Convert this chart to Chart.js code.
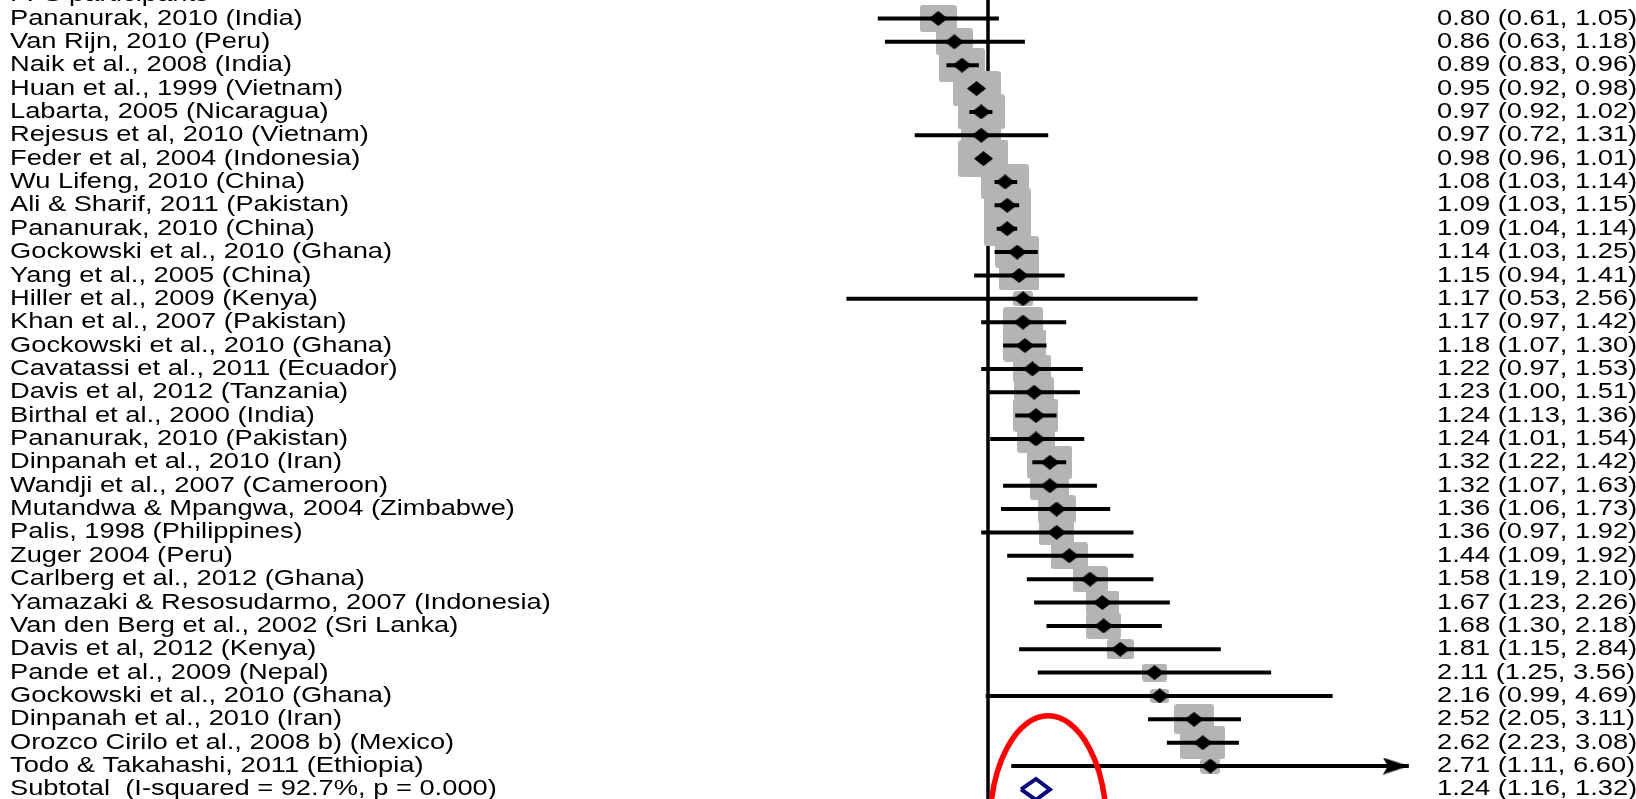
<!DOCTYPE html>
<html>
<head>
<meta charset="utf-8">
<script src="https://cdn.jsdelivr.net/npm/chart.js@4"></script>
<style>
  html, body { margin: 0; padding: 0; background: #fff; }
  #wrap { position: relative; width: 1636px; height: 799px; }
</style>
</head>
<body>
<div id="wrap"><canvas id="forest"></canvas></div>
<script>
// Forest plot, FFS participants subgroup (odds ratios, log x axis)

const groupTitle = 'FFS participants';

const studies = [
  'Pananurak, 2010 (India)',
  'Van Rijn, 2010 (Peru)',
  'Naik et al., 2008 (India)',
  'Huan et al., 1999 (Vietnam)',
  'Labarta, 2005 (Nicaragua)',
  'Rejesus et al, 2010 (Vietnam)',
  'Feder et al, 2004 (Indonesia)',
  'Wu Lifeng, 2010 (China)',
  'Ali & Sharif, 2011 (Pakistan)',
  'Pananurak, 2010 (China)',
  'Gockowski et al., 2010 (Ghana)',
  'Yang et al., 2005 (China)',
  'Hiller et al., 2009 (Kenya)',
  'Khan et al., 2007 (Pakistan)',
  'Gockowski et al., 2010 (Ghana)',
  'Cavatassi et al., 2011 (Ecuador)',
  'Davis et al, 2012 (Tanzania)',
  'Birthal et al., 2000 (India)',
  'Pananurak, 2010 (Pakistan)',
  'Dinpanah et al., 2010 (Iran)',
  'Wandji et al., 2007 (Cameroon)',
  'Mutandwa & Mpangwa, 2004 (Zimbabwe)',
  'Palis, 1998 (Philippines)',
  'Zuger 2004 (Peru)',
  'Carlberg et al., 2012 (Ghana)',
  'Yamazaki & Resosudarmo, 2007 (Indonesia)',
  'Van den Berg et al., 2002 (Sri Lanka)',
  'Davis et al, 2012 (Kenya)',
  'Pande et al., 2009 (Nepal)',
  'Gockowski et al., 2010 (Ghana)',
  'Dinpanah et al., 2010 (Iran)',
  'Orozco Cirilo et al., 2008 b) (Mexico)',
  'Todo & Takahashi, 2011 (Ethiopia)'
];

const estimates = [0.80, 0.86, 0.89, 0.95, 0.97, 0.97, 0.98, 1.08, 1.09, 1.09, 1.14, 1.15, 1.17, 1.17, 1.18, 1.22, 1.23,
  1.24, 1.24, 1.32, 1.32, 1.36, 1.36, 1.44, 1.58, 1.67, 1.68, 1.81, 2.11, 2.16, 2.52, 2.62, 2.71];
const lower = [0.61, 0.63, 0.83, 0.92, 0.92, 0.72, 0.96, 1.03, 1.03, 1.04, 1.03, 0.94, 0.53, 0.97, 1.07, 0.97, 1.00,
  1.13, 1.01, 1.22, 1.07, 1.06, 0.97, 1.09, 1.19, 1.23, 1.30, 1.15, 1.25, 0.99, 2.05, 2.23, 1.11];
const upper = [1.05, 1.18, 0.96, 0.98, 1.02, 1.31, 1.01, 1.14, 1.15, 1.14, 1.25, 1.41, 2.56, 1.42, 1.30, 1.53, 1.51,
  1.36, 1.54, 1.42, 1.63, 1.73, 1.92, 1.92, 2.10, 2.26, 2.18, 2.84, 3.56, 4.69, 3.11, 3.08, 6.60];
// study weights (%), estimated from the grey box sizes
const weights = [2.0, 2.0, 3.1, 3.4, 3.3, 2.4, 3.7, 3.4, 3.3, 3.3, 2.8, 2.4, 0.6, 2.4, 2.7, 2.1, 2.4,
  3.0, 2.1, 3.0, 2.3, 2.1, 1.8, 2.0, 1.8, 1.6, 1.8, 1.1, 0.9, 0.55, 2.4, 3.0, 0.6];

const subtotalLabel = 'Subtotal  (I-squared = 92.7%, p = 0.000)';
const subtotalEst = 1.24;
const subtotalLower = 1.16;
const subtotalUpper = 1.32;

const nullValue = 1;
const arrowFrom = 6; // CIs reaching past this get an arrow head
// red hand-drawn circle around the pooled diamond (data units)
const highlight = { xFrom: 1.009, xTo: 1.70, yFrom: 29.85, yTo: 39.25 };

// ---- helpers ----
function fmt(v) { return v.toFixed(2); }

function makeBox(w, h) {
  const c = document.createElement('canvas');
  c.width = Math.round(w); c.height = Math.round(h);
  const g = c.getContext('2d');
  g.fillStyle = '#b4b4b4';
  g.beginPath();
  g.roundRect(0, 0, c.width, c.height, 3);
  g.fill();
  return c;
}

function makeDiamond(w, h, color) {
  const c = document.createElement('canvas');
  c.width = w; c.height = h;
  const g = c.getContext('2d');
  g.fillStyle = color;
  g.beginPath();
  g.moveTo(w / 2, 0); g.lineTo(w, h / 2); g.lineTo(w / 2, h); g.lineTo(0, h / 2);
  g.closePath(); g.fill();
  return c;
}

function makeArrow(len, h) {
  // tip sits at the centre of the canvas so the point lands on the CI end
  const c = document.createElement('canvas');
  c.width = len * 2; c.height = h;
  const g = c.getContext('2d');
  g.fillStyle = '#000';
  g.beginPath();
  g.moveTo(len, h / 2); g.lineTo(0, 0); g.lineTo(5, h / 2); g.lineTo(0, h);
  g.closePath(); g.fill();
  return c;
}

const rows = studies.map((s, i) => i);
const subRow = studies.length;

// CI segments in one dataset, broken by gaps
const ciData = [];
rows.forEach(i => {
  ciData.push({ x: lower[i], y: i }, { x: upper[i], y: i }, { x: NaN, y: NaN });
});

const boxData = rows.map(i => ({ x: estimates[i], y: i }));
const boxStyles = rows.map(i => {
  const w = 26 * Math.sqrt(weights[i]);
  return makeBox(w, w * 0.74);
});
const pointData = rows.map(i => ({ x: estimates[i], y: i }));
const dot = makeDiamond(19, 15, '#000');

const arrowRows = rows.filter(i => upper[i] > arrowFrom);
const arrowData = arrowRows.map(i => ({ x: upper[i], y: i }));

const dh = 0.45;
const subData = [
  { x: subtotalLower, y: subRow }, { x: subtotalEst, y: subRow - dh },
  { x: subtotalUpper, y: subRow }, { x: subtotalEst, y: subRow + dh },
  { x: subtotalLower, y: subRow }
];

const labelsPlugin = {
  id: 'forestText',
  afterDraw(chart) {
    const ctx = chart.ctx;
    const y = chart.scales.y;
    const sx = 1.24;
    ctx.save();
    ctx.fillStyle = '#000';
    ctx.font = '22px "Liberation Sans", Arial, sans-serif';
    ctx.textBaseline = 'middle';
    const put = (txt, x, row) => {
      ctx.save();
      ctx.translate(x, y.getPixelForValue(row));
      ctx.scale(sx, 1);
      ctx.fillText(txt, 0, 0);
      ctx.restore();
    };
    put(groupTitle, 10, -1);
    rows.forEach(i => {
      put(studies[i], 10, i);
      put(fmt(estimates[i]) + ' (' + fmt(lower[i]) + ', ' + fmt(upper[i]) + ')', 1437, i);
    });
    put(subtotalLabel, 10, subRow);
    put(fmt(subtotalEst) + ' (' + fmt(subtotalLower) + ', ' + fmt(subtotalUpper) + ')', 1437, subRow);

    // red ellipse annotation
    const x = chart.scales.x;
    const x0 = x.getPixelForValue(highlight.xFrom), x1 = x.getPixelForValue(highlight.xTo);
    const y0 = y.getPixelForValue(highlight.yFrom), y1 = y.getPixelForValue(highlight.yTo);
    ctx.strokeStyle = '#ff0000';
    ctx.lineWidth = 5.5;
    ctx.beginPath();
    ctx.ellipse((x0 + x1) / 2, (y0 + y1) / 2, (x1 - x0) / 2, (y1 - y0) / 2, 0, 0, Math.PI * 2);
    ctx.stroke();
    ctx.restore();
  }
};

new Chart(document.getElementById('forest'), {
  type: 'line',
  data: {
    datasets: [
      { data: pointData, showLine: false, pointStyle: dot, pointRadius: 6, order: 0 },
      { data: arrowData, showLine: false, pointStyle: makeArrow(26, 17), pointRadius: 6, order: 0 },
      { data: subData, borderColor: '#0a0a7e', borderWidth: 4, borderJoinStyle: 'miter', pointRadius: 0, fill: false, order: 0 },
      { data: ciData, borderColor: '#000', borderWidth: 4, borderCapStyle: 'butt', pointRadius: 0, spanGaps: false, fill: false, order: 1 },
      { data: boxData, showLine: false, pointStyle: boxStyles, pointRadius: 6, order: 2 },
      { data: [{ x: nullValue, y: -2 }, { x: nullValue, y: subRow + 2 }], borderColor: '#000', borderWidth: 3.5, pointRadius: 0, fill: false, order: 3 }
    ]
  },
  options: {
    responsive: true,
    maintainAspectRatio: false,
    animation: false,
    events: [],
    layout: { padding: 0, autoPadding: false },
    plugins: { legend: { display: false }, tooltip: { enabled: false } },
    scales: {
      x: { type: 'logarithmic', min: 0.01191, max: 18.28, bounds: 'data', display: false },
      y: { type: 'linear', reverse: true, min: -0.79, max: 33.41, bounds: 'data', display: false }
    }
  },
  plugins: [labelsPlugin]
});
</script>
</body>
</html>
